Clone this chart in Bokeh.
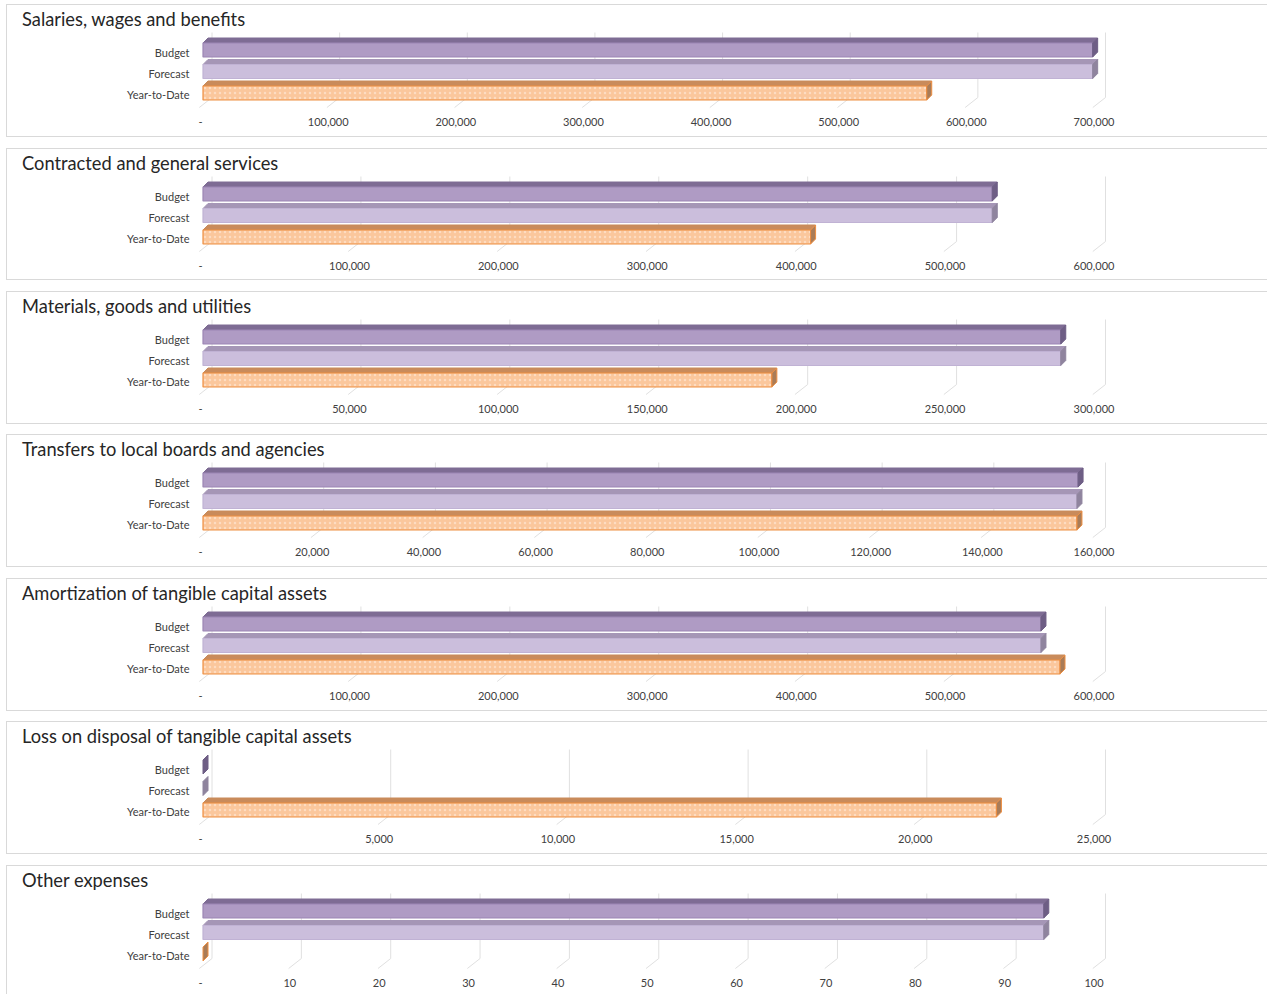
from bokeh.plotting import figure
from bokeh.layouts import column
from bokeh.models import Range1d, FixedTicker, NumeralTickFormatter
from bokeh.embed import file_html
from bokeh.resources import INLINE

categories = ["Budget", "Forecast", "Year-to-Date"]
titles = ["Salaries, wages and benefits", "Contracted and general services",
          "Materials, goods and utilities", "Transfers to local boards and agencies",
          "Amortization of tangible capital assets", "Loss on disposal of tangible capital assets",
          "Other expenses"]
budget = [697000, 530000, 288000, 156700, 562700, 0, 94.1]
forecast = [697000, 530000, 288000, 156500, 562700, 0, 94.1]
year_to_date = [567000, 408000, 191000, 156500, 575500, 22200, 0]
axis_max = [700000, 600000, 300000, 160000, 600000, 25000, 100]
axis_step = [100000, 100000, 50000, 20000, 100000, 5000, 10]

FONT = "Lato"
TEXT = "#404040"
GRID = "#e0e0e0"
BORDER = "#d9d9d9"
STYLE = [
    dict(front="#af9bc4", line="#9c86b4", top="#7e6c94", end="#6e5e85", hatch=None),
    dict(front="#cbbedc", line="#c0b2d4", top="#a596b6", end="#8f849e", hatch=None),
    dict(front="#fbc79c", line="#ee8f42", top="#c98b5b", end="#a97c58", hatch="#fde3cd"),
]
GAPS = [11, 11, 10, 11, 10, 11, 0]        # white space under each panel
HEIGHTS = [133, 132, 133, 133, 133, 133, 129]
MARGIN_TOP = 4
PANEL_L = 6
WIDTH = 1261
FRAME_L, FRAME_B, FRAME_T = 190, 105, 24  # inside the panel
ZERO_PX, LEN_PX = 193, 893.5
BAR_TOPS = [37.5, 59, 80.5]
BAR_H, DX, DY = 14, 5, 5
LABEL_Y = [47, 68, 89]

figs = []
for i, title in enumerate(titles):
    u = axis_max[i] / LEN_PX
    H = HEIGHTS[i]
    styles = {"border": f"1px solid {BORDER}", "border-right": "none", "box-sizing": "border-box"}
    if i == 6:
        styles["border-bottom"] = "none"
    p = figure(width=WIDTH, height=H, output_backend="svg", toolbar_location=None,
               x_range=Range1d((FRAME_L - ZERO_PX) * u, (WIDTH - ZERO_PX) * u),
               y_range=Range1d(FRAME_B, FRAME_T),
               min_border_left=FRAME_L, min_border_right=0, min_border_top=2,
               min_border_bottom=H - FRAME_B, outline_line_color=None,
               background_fill_color="white", border_fill_color="white",
               margin=(MARGIN_TOP if i == 0 else 0, 0, GAPS[i], PANEL_L),
               styles=styles)
    p.grid.visible = False

    p.title.text = title
    p.title.align = "left"
    p.title.offset = 14.5 - FRAME_L
    p.title.text_font = FONT
    p.title.text_font_size = "18.3px"
    p.title.text_font_style = "normal"
    p.title.text_color = "#262626"
    p.title.standoff = 0

    ticks = list(range(0, axis_max[i] + 1, axis_step[i]))
    ax = p.xaxis[0]
    ax.ticker = FixedTicker(ticks=ticks)
    ax.formatter = NumeralTickFormatter(format="0,0")
    ax.major_label_overrides = {0: "-"}
    ax.axis_line_color = None
    ax.major_tick_line_color = None
    ax.minor_tick_line_color = None
    ax.major_label_standoff = 1
    ax.major_label_text_font = FONT
    ax.major_label_text_font_size = "11px"
    ax.major_label_text_color = TEXT

    ay = p.yaxis[0]
    ay.ticker = FixedTicker(ticks=LABEL_Y)
    ay.major_label_overrides = dict(zip(LABEL_Y, categories))
    ay.axis_line_color = None
    ay.major_tick_line_color = None
    ay.minor_tick_line_color = None
    ay.major_label_standoff = 2
    ay.major_label_text_font = FONT
    ay.major_label_text_font_size = "11px"
    ay.major_label_text_color = TEXT

    # Back wall gridlines and the floor lines running to the front
    bx = [t + 11.5 * u for t in ticks]
    p.segment(bx, [27] * len(ticks), bx, [92] * len(ticks), line_color=GRID, line_width=1)
    p.segment(bx, [92] * len(ticks), [t - 1.2 * u for t in ticks], [102] * len(ticks),
              line_color=GRID, line_width=1)

    series = [budget[i], forecast[i], year_to_date[i]]
    z = 2.5 * u
    for v, yt, st in zip(series, BAR_TOPS, STYLE):
        yb = yt + BAR_H
        x0, x1 = z, z + v
        d = DX * u
        if v > 0:
            p.patch([x0, x1, x1 + d, x0 + d], [yt, yt, yt - DY, yt - DY], fill_color=st["top"],
                    line_color=st["top"], line_width=1)
            kw = dict(hatch_pattern="dot", hatch_color=st["hatch"], hatch_alpha=0.75, hatch_scale=5, hatch_weight=1.1) if st["hatch"] else {}
            p.quad(left=[x0], right=[x1], top=[yt], bottom=[yb], fill_color=st["front"],
                   line_color=st["line"], line_width=1.2, **kw)
        p.patch([x1, x1 + d, x1 + d, x1], [yt, yt - DY, yb - DY, yb],
                fill_color=st["end"], line_color=st["line"] if st["hatch"] else st["end"], line_width=1)
    figs.append(p)

page = column(*figs, spacing=0, styles={"position": "absolute", "left": "0px", "top": "0px"})
open("out.html", "w").write(file_html(page, INLINE))
